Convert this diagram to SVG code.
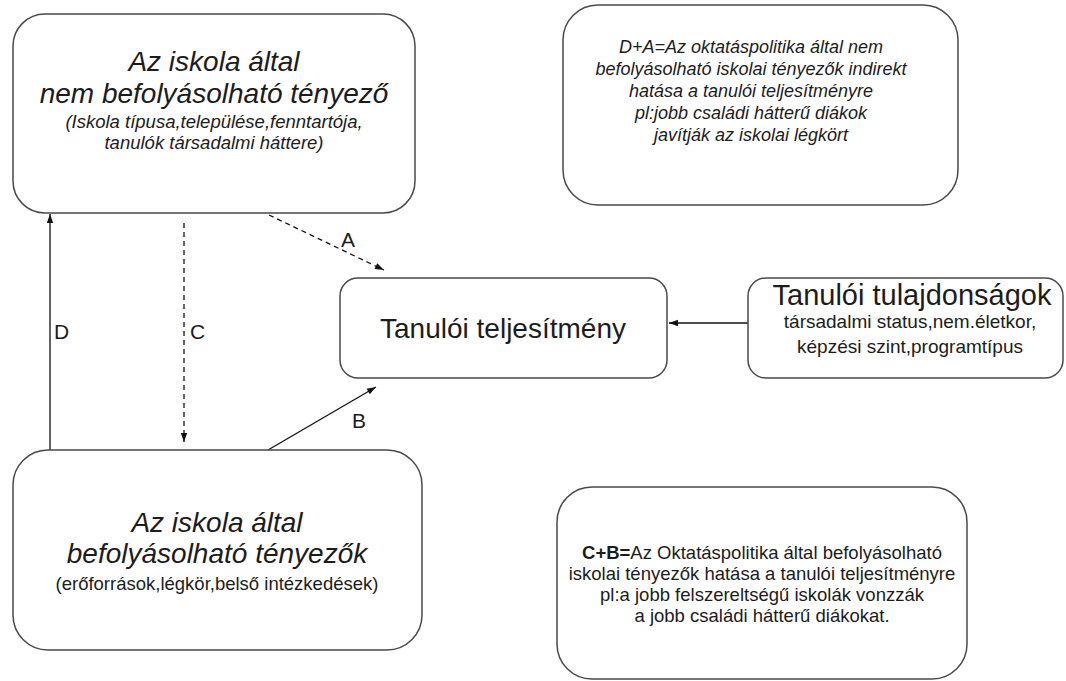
<svg xmlns="http://www.w3.org/2000/svg" width="1066" height="681" viewBox="0 0 1066 681">
<defs>
<style>
.box{fill:#fff;stroke:#4a4a4a;stroke-width:1.5}
text{font-family:"Liberation Sans",Arial,sans-serif;fill:#1c1c1c}
.big{font-size:28px}
.it{font-style:italic}
.mid{font-size:18.5px}
.sm{font-size:18px}
.c{text-anchor:middle}
.lbl{font-size:21px}
.ln{fill:none;stroke:#111;stroke-width:1.3}
.dash{stroke-dasharray:5 4}
</style>
<marker id="ah" viewBox="0 0 10 10" refX="10" refY="5" markerWidth="10" markerHeight="9" markerUnits="userSpaceOnUse" orient="auto">
<path d="M0,1.5 L10,5 L0,8.5 Z" fill="#111"/>
</marker>
</defs>
<rect width="1066" height="681" fill="#fff"/>

<g id="connectors">
<line class="ln" x1="50" y1="450" x2="50" y2="214" marker-end="url(#ah)"/>
<line class="ln dash" x1="184" y1="223" x2="184" y2="442" marker-end="url(#ah)"/>
<line class="ln dash" x1="269" y1="215" x2="384" y2="270" marker-end="url(#ah)"/>
<line class="ln" x1="268" y1="450" x2="376" y2="387" marker-end="url(#ah)"/>
<line class="ln" x1="748" y1="323" x2="669" y2="323" marker-end="url(#ah)"/>
<text class="lbl" x="54" y="339">D</text>
<text class="lbl" x="190" y="339">C</text>
<text class="lbl" x="341" y="247">A</text>
<text class="lbl" x="352" y="428">B</text>
</g>

<g id="node-nem-befolyasolhato">
<rect class="box" x="13" y="14" width="402" height="199" rx="32"/>
<text class="big it c" x="214" y="71">Az iskola által</text>
<text class="big it c" x="214" y="103">nem befolyásolható tényező</text>
<text class="mid it c" x="214" y="128">(Iskola típusa,települése,fenntartója,</text>
<text class="mid it c" x="214" y="149">tanulók társadalmi háttere)</text>
</g>

<g id="node-da">
<rect class="box" x="563" y="5" width="395" height="200" rx="35"/>
<text class="sm it c" x="751" y="53">D+A=Az oktatáspolitika által nem</text>
<text class="sm it c" x="751" y="75">befolyásolható iskolai tényezők indirekt</text>
<text class="sm it c" x="751" y="97">hatása a tanulói teljesítményre</text>
<text class="sm it c" x="751" y="119">pl:jobb családi hátterű diákok</text>
<text class="sm it c" x="751" y="141">javítják az iskolai légkört</text>
</g>

<g id="node-teljesitmeny">
<rect class="box" x="340" y="278" width="327" height="100" rx="18"/>
<text class="big c" x="503" y="338">Tanulói teljesítmény</text>
</g>

<g id="node-tulajdonsagok">
<rect class="box" x="748" y="278" width="315" height="100" rx="18"/>
<text class="c" x="912" y="305" font-size="29">Tanulói tulajdonságok</text>
<text class="c" x="910" y="328" font-size="19">társadalmi status,nem.életkor,</text>
<text class="c" x="910" y="353" font-size="19">képzési szint,programtípus</text>
</g>

<g id="node-befolyasolhato">
<rect class="box" x="13" y="450" width="409" height="200" rx="35"/>
<text class="big it c" x="217" y="532">Az iskola által</text>
<text class="big it c" x="217" y="563">befolyásolható tényezők</text>
<text class="mid c" x="217" y="590">(erőforrások,légkör,belső intézkedések)</text>
</g>

<g id="node-cb">
<rect class="box" x="557" y="487" width="410" height="192" rx="35"/>
<text class="mid c" x="762" y="559"><tspan font-weight="bold">C+B=</tspan>Az Oktatáspolitika által befolyásolható</text>
<text class="mid c" x="762" y="580">iskolai tényezők hatása a tanulói teljesítményre</text>
<text class="mid c" x="762" y="601">pl:a jobb felszereltségű iskolák vonzzák</text>
<text class="mid c" x="762" y="622">a jobb családi hátterű diákokat.</text>
</g>
</svg>
